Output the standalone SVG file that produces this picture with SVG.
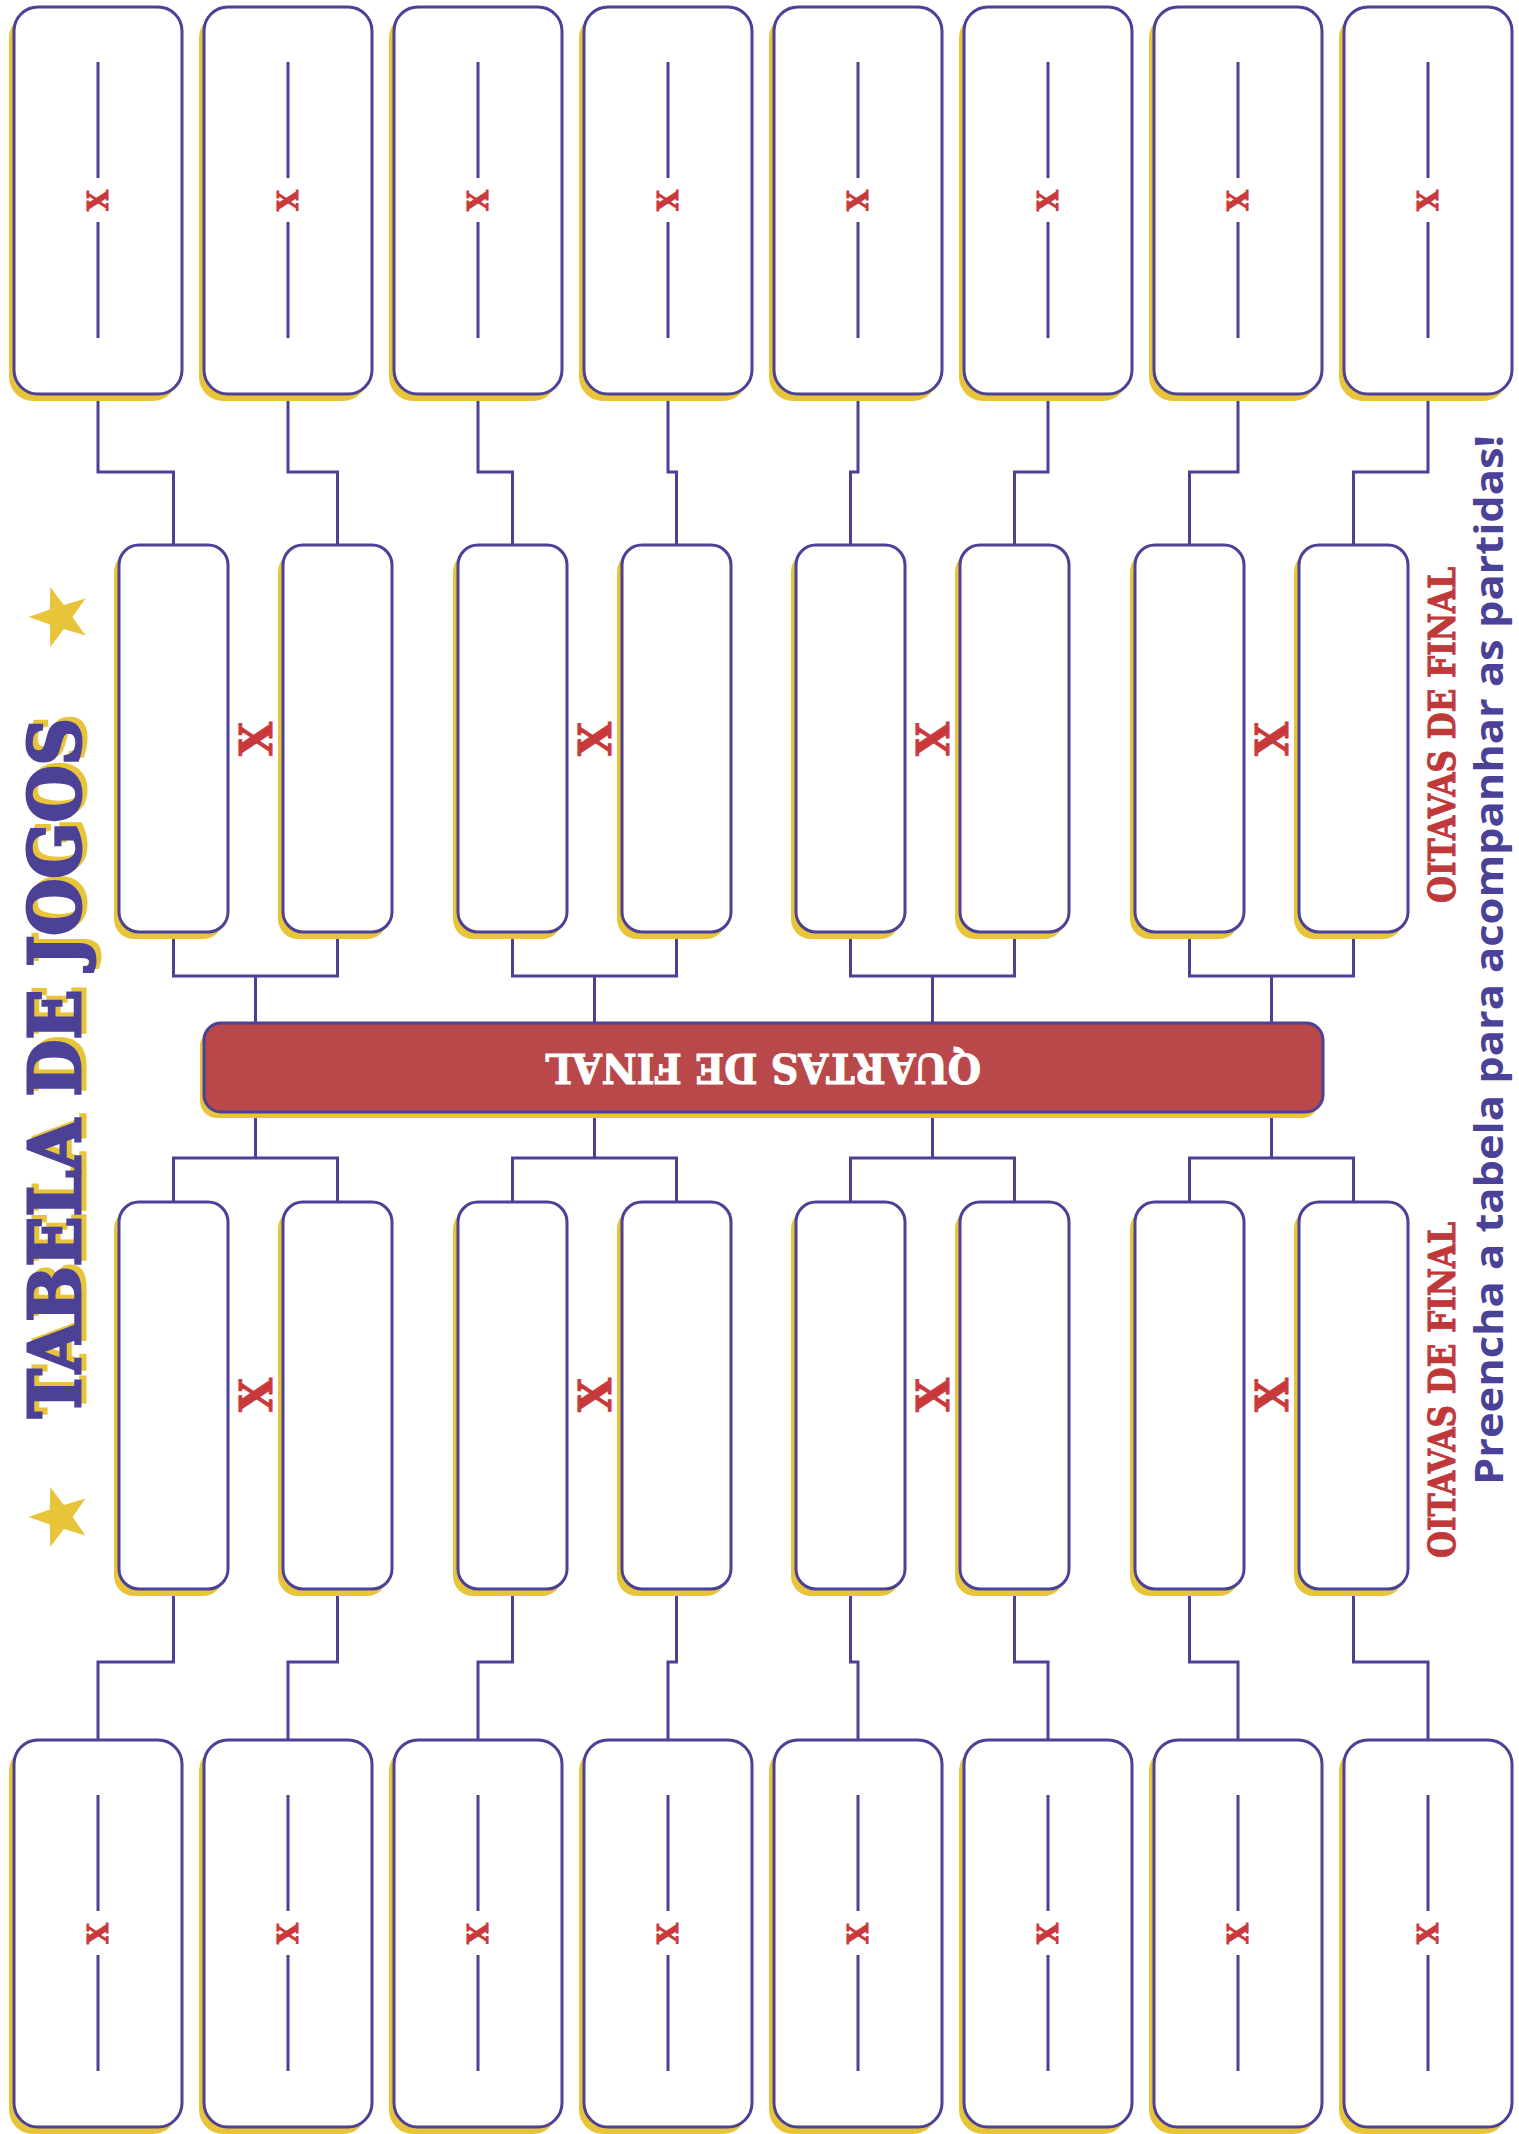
<svg xmlns="http://www.w3.org/2000/svg" width="1519" height="2134" viewBox="0 0 1519 2134">
<defs>
<style>
.sh{fill:#e8c43a}
.bx{fill:#fff;stroke:#4b4196;stroke-width:3}
.ln{stroke:#4b4196;stroke-width:3;fill:none}
.cn{stroke:#4b4196;stroke-width:3;fill:none;stroke-linejoin:miter}
.xs{font-family:"DejaVu Serif","Liberation Serif",serif;font-weight:bold;fill:#c9383b;stroke:#c9383b;stroke-width:1;text-anchor:middle}
.slab{font-family:"DejaVu Serif","Liberation Serif",serif;font-weight:bold}
</style>
</defs>
<rect x="0" y="0" width="1519" height="2134" fill="#fff"/>

<g id="title">
<g transform="translate(80,1418) rotate(-90)">
<text x="4" y="5" class="slab" font-size="71" fill="#e8c43a" stroke="#e8c43a" stroke-width="3" textLength="700" lengthAdjust="spacingAndGlyphs">TABELA DE JOGOS</text>
<text x="0" y="0" class="slab" font-size="71" fill="#4b4196" stroke="#4b4196" stroke-width="3" textLength="700" lengthAdjust="spacingAndGlyphs">TABELA DE JOGOS</text>
</g>
</g>
<g id="star-top"><polygon class="sh" transform="translate(60,617) scale(1.05)" points="-30,0 -9.71,7.05 -9.27,28.53 3.71,11.41 24.27,17.63 12,0 24.27,-17.63 3.71,-11.41 -9.27,-28.53 -9.71,-7.05"/></g>
<g id="star-bottom"><polygon class="sh" transform="translate(60,1517) scale(1.05)" points="-30,0 -9.71,7.05 -9.27,28.53 3.71,11.41 24.27,17.63 12,0 24.27,-17.63 3.71,-11.41 -9.27,-28.53 -9.71,-7.05"/></g>

<g id="connectors">
<path class="cn" d="M98 394V472H173.5V545"/>
<path class="cn" d="M288 394V472H337.5V545"/>
<path class="cn" d="M478 394V472H512.5V545"/>
<path class="cn" d="M668 394V472H676.5V545"/>
<path class="cn" d="M858 394V472H850.5V545"/>
<path class="cn" d="M1048 394V472H1014.5V545"/>
<path class="cn" d="M1238 394V472H1189.5V545"/>
<path class="cn" d="M1428 394V472H1353.5V545"/>
<path class="cn" d="M173.5 932V976H337.5V932M255.5 976V1023"/>
<path class="cn" d="M512.5 932V976H676.5V932M594.5 976V1023"/>
<path class="cn" d="M850.5 932V976H1014.5V932M932.5 976V1023"/>
<path class="cn" d="M1189.5 932V976H1353.5V932M1271.5 976V1023"/>
<path class="cn" d="M173.5 1202V1158H337.5V1202M255.5 1158V1112"/>
<path class="cn" d="M512.5 1202V1158H676.5V1202M594.5 1158V1112"/>
<path class="cn" d="M850.5 1202V1158H1014.5V1202M932.5 1158V1112"/>
<path class="cn" d="M1189.5 1202V1158H1353.5V1202M1271.5 1158V1112"/>
<path class="cn" d="M173.5 1589V1662H98V1740"/>
<path class="cn" d="M337.5 1589V1662H288V1740"/>
<path class="cn" d="M512.5 1589V1662H478V1740"/>
<path class="cn" d="M676.5 1589V1662H668V1740"/>
<path class="cn" d="M850.5 1589V1662H858V1740"/>
<path class="cn" d="M1014.5 1589V1662H1048V1740"/>
<path class="cn" d="M1189.5 1589V1662H1238V1740"/>
<path class="cn" d="M1353.5 1589V1662H1428V1740"/>
</g>

<!-- top row -->
<g id="top-1"><rect class="sh" x="9" y="14" width="168" height="387" rx="24"/><rect class="bx" x="14" y="7" width="168" height="387" rx="24"/><path class="ln" d="M98 62V178M98 222V338"/><text class="xs" font-size="27" transform="translate(98,200.5) rotate(-90)" y="10">X</text></g>
<g id="top-2"><rect class="sh" x="199" y="14" width="168" height="387" rx="24"/><rect class="bx" x="204" y="7" width="168" height="387" rx="24"/><path class="ln" d="M288 62V178M288 222V338"/><text class="xs" font-size="27" transform="translate(288,200.5) rotate(-90)" y="10">X</text></g>
<g id="top-3"><rect class="sh" x="389" y="14" width="168" height="387" rx="24"/><rect class="bx" x="394" y="7" width="168" height="387" rx="24"/><path class="ln" d="M478 62V178M478 222V338"/><text class="xs" font-size="27" transform="translate(478,200.5) rotate(-90)" y="10">X</text></g>
<g id="top-4"><rect class="sh" x="579" y="14" width="168" height="387" rx="24"/><rect class="bx" x="584" y="7" width="168" height="387" rx="24"/><path class="ln" d="M668 62V178M668 222V338"/><text class="xs" font-size="27" transform="translate(668,200.5) rotate(-90)" y="10">X</text></g>
<g id="top-5"><rect class="sh" x="769" y="14" width="168" height="387" rx="24"/><rect class="bx" x="774" y="7" width="168" height="387" rx="24"/><path class="ln" d="M858 62V178M858 222V338"/><text class="xs" font-size="27" transform="translate(858,200.5) rotate(-90)" y="10">X</text></g>
<g id="top-6"><rect class="sh" x="959" y="14" width="168" height="387" rx="24"/><rect class="bx" x="964" y="7" width="168" height="387" rx="24"/><path class="ln" d="M1048 62V178M1048 222V338"/><text class="xs" font-size="27" transform="translate(1048,200.5) rotate(-90)" y="10">X</text></g>
<g id="top-7"><rect class="sh" x="1149" y="14" width="168" height="387" rx="24"/><rect class="bx" x="1154" y="7" width="168" height="387" rx="24"/><path class="ln" d="M1238 62V178M1238 222V338"/><text class="xs" font-size="27" transform="translate(1238,200.5) rotate(-90)" y="10">X</text></g>
<g id="top-8"><rect class="sh" x="1339" y="14" width="168" height="387" rx="24"/><rect class="bx" x="1344" y="7" width="168" height="387" rx="24"/><path class="ln" d="M1428 62V178M1428 222V338"/><text class="xs" font-size="27" transform="translate(1428,200.5) rotate(-90)" y="10">X</text></g>

<!-- upper round of 16 -->
<g id="r16-top-1"><rect class="sh" x="114" y="552" width="109" height="387" rx="20"/><rect class="bx" x="119" y="545" width="109" height="387" rx="20"/></g>
<g id="r16-top-2"><rect class="sh" x="278" y="552" width="109" height="387" rx="20"/><rect class="bx" x="283" y="545" width="109" height="387" rx="20"/></g>
<g id="r16-top-3"><rect class="sh" x="453" y="552" width="109" height="387" rx="20"/><rect class="bx" x="458" y="545" width="109" height="387" rx="20"/></g>
<g id="r16-top-4"><rect class="sh" x="617" y="552" width="109" height="387" rx="20"/><rect class="bx" x="622" y="545" width="109" height="387" rx="20"/></g>
<g id="r16-top-5"><rect class="sh" x="791" y="552" width="109" height="387" rx="20"/><rect class="bx" x="796" y="545" width="109" height="387" rx="20"/></g>
<g id="r16-top-6"><rect class="sh" x="955" y="552" width="109" height="387" rx="20"/><rect class="bx" x="960" y="545" width="109" height="387" rx="20"/></g>
<g id="r16-top-7"><rect class="sh" x="1130" y="552" width="109" height="387" rx="20"/><rect class="bx" x="1135" y="545" width="109" height="387" rx="20"/></g>
<g id="r16-top-8"><rect class="sh" x="1294" y="552" width="109" height="387" rx="20"/><rect class="bx" x="1299" y="545" width="109" height="387" rx="20"/></g>
<g id="vs-top">
<text class="xs" font-size="44" transform="translate(255.5,739) rotate(-90)" y="16">X</text>
<text class="xs" font-size="44" transform="translate(594.5,739) rotate(-90)" y="16">X</text>
<text class="xs" font-size="44" transform="translate(932.5,739) rotate(-90)" y="16">X</text>
<text class="xs" font-size="44" transform="translate(1271.5,739) rotate(-90)" y="16">X</text>
</g>

<!-- quarter finals bar -->
<g id="quartas">
<rect class="sh" x="200" y="1029" width="1119" height="89" rx="17"/>
<rect x="204" y="1023" width="1119" height="89" rx="17" fill="#b9484a" stroke="#4b4196" stroke-width="3"/>
<text class="slab" x="763" y="1082" font-size="41" fill="#fff" stroke="#fff" stroke-width="1" text-anchor="middle" textLength="436" lengthAdjust="spacingAndGlyphs" transform="rotate(180 763 1068)">QUARTAS DE FINAL</text>
</g>

<!-- lower round of 16 -->
<g id="r16-bot-1"><rect class="sh" x="114" y="1209" width="109" height="387" rx="20"/><rect class="bx" x="119" y="1202" width="109" height="387" rx="20"/></g>
<g id="r16-bot-2"><rect class="sh" x="278" y="1209" width="109" height="387" rx="20"/><rect class="bx" x="283" y="1202" width="109" height="387" rx="20"/></g>
<g id="r16-bot-3"><rect class="sh" x="453" y="1209" width="109" height="387" rx="20"/><rect class="bx" x="458" y="1202" width="109" height="387" rx="20"/></g>
<g id="r16-bot-4"><rect class="sh" x="617" y="1209" width="109" height="387" rx="20"/><rect class="bx" x="622" y="1202" width="109" height="387" rx="20"/></g>
<g id="r16-bot-5"><rect class="sh" x="791" y="1209" width="109" height="387" rx="20"/><rect class="bx" x="796" y="1202" width="109" height="387" rx="20"/></g>
<g id="r16-bot-6"><rect class="sh" x="955" y="1209" width="109" height="387" rx="20"/><rect class="bx" x="960" y="1202" width="109" height="387" rx="20"/></g>
<g id="r16-bot-7"><rect class="sh" x="1130" y="1209" width="109" height="387" rx="20"/><rect class="bx" x="1135" y="1202" width="109" height="387" rx="20"/></g>
<g id="r16-bot-8"><rect class="sh" x="1294" y="1209" width="109" height="387" rx="20"/><rect class="bx" x="1299" y="1202" width="109" height="387" rx="20"/></g>
<g id="vs-bot">
<text class="xs" font-size="44" transform="translate(255.5,1395) rotate(-90)" y="16">X</text>
<text class="xs" font-size="44" transform="translate(594.5,1395) rotate(-90)" y="16">X</text>
<text class="xs" font-size="44" transform="translate(932.5,1395) rotate(-90)" y="16">X</text>
<text class="xs" font-size="44" transform="translate(1271.5,1395) rotate(-90)" y="16">X</text>
</g>

<!-- bottom row -->
<g id="bot-1"><rect class="sh" x="9" y="1747" width="168" height="387" rx="24"/><rect class="bx" x="14" y="1740" width="168" height="387" rx="24"/><path class="ln" d="M98 1795V1911M98 1955V2071"/><text class="xs" font-size="27" transform="translate(98,1933.5) rotate(-90)" y="10">X</text></g>
<g id="bot-2"><rect class="sh" x="199" y="1747" width="168" height="387" rx="24"/><rect class="bx" x="204" y="1740" width="168" height="387" rx="24"/><path class="ln" d="M288 1795V1911M288 1955V2071"/><text class="xs" font-size="27" transform="translate(288,1933.5) rotate(-90)" y="10">X</text></g>
<g id="bot-3"><rect class="sh" x="389" y="1747" width="168" height="387" rx="24"/><rect class="bx" x="394" y="1740" width="168" height="387" rx="24"/><path class="ln" d="M478 1795V1911M478 1955V2071"/><text class="xs" font-size="27" transform="translate(478,1933.5) rotate(-90)" y="10">X</text></g>
<g id="bot-4"><rect class="sh" x="579" y="1747" width="168" height="387" rx="24"/><rect class="bx" x="584" y="1740" width="168" height="387" rx="24"/><path class="ln" d="M668 1795V1911M668 1955V2071"/><text class="xs" font-size="27" transform="translate(668,1933.5) rotate(-90)" y="10">X</text></g>
<g id="bot-5"><rect class="sh" x="769" y="1747" width="168" height="387" rx="24"/><rect class="bx" x="774" y="1740" width="168" height="387" rx="24"/><path class="ln" d="M858 1795V1911M858 1955V2071"/><text class="xs" font-size="27" transform="translate(858,1933.5) rotate(-90)" y="10">X</text></g>
<g id="bot-6"><rect class="sh" x="959" y="1747" width="168" height="387" rx="24"/><rect class="bx" x="964" y="1740" width="168" height="387" rx="24"/><path class="ln" d="M1048 1795V1911M1048 1955V2071"/><text class="xs" font-size="27" transform="translate(1048,1933.5) rotate(-90)" y="10">X</text></g>
<g id="bot-7"><rect class="sh" x="1149" y="1747" width="168" height="387" rx="24"/><rect class="bx" x="1154" y="1740" width="168" height="387" rx="24"/><path class="ln" d="M1238 1795V1911M1238 1955V2071"/><text class="xs" font-size="27" transform="translate(1238,1933.5) rotate(-90)" y="10">X</text></g>
<g id="bot-8"><rect class="sh" x="1339" y="1747" width="168" height="387" rx="24"/><rect class="bx" x="1344" y="1740" width="168" height="387" rx="24"/><path class="ln" d="M1428 1795V1911M1428 1955V2071"/><text class="xs" font-size="27" transform="translate(1428,1933.5) rotate(-90)" y="10">X</text></g>

<!-- side labels -->
<g id="label-oitavas-top"><text class="slab" font-size="37" fill="#c0393a" stroke="#c0393a" stroke-width="1" transform="translate(1455,903) rotate(-90)" textLength="336" lengthAdjust="spacingAndGlyphs">OITAVAS DE FINAL</text></g>
<g id="label-oitavas-bottom"><text class="slab" font-size="37" fill="#c0393a" stroke="#c0393a" stroke-width="1" transform="translate(1455,1558) rotate(-90)" textLength="336" lengthAdjust="spacingAndGlyphs">OITAVAS DE FINAL</text></g>
<g id="subtitle"><text font-family="'Open Sans','Noto Sans',sans-serif" font-weight="bold" font-size="40" fill="#4b4196" transform="translate(1503,1485) rotate(-90)" textLength="1050" lengthAdjust="spacingAndGlyphs">Preencha a tabela para acompanhar as partidas!</text></g>
</svg>
